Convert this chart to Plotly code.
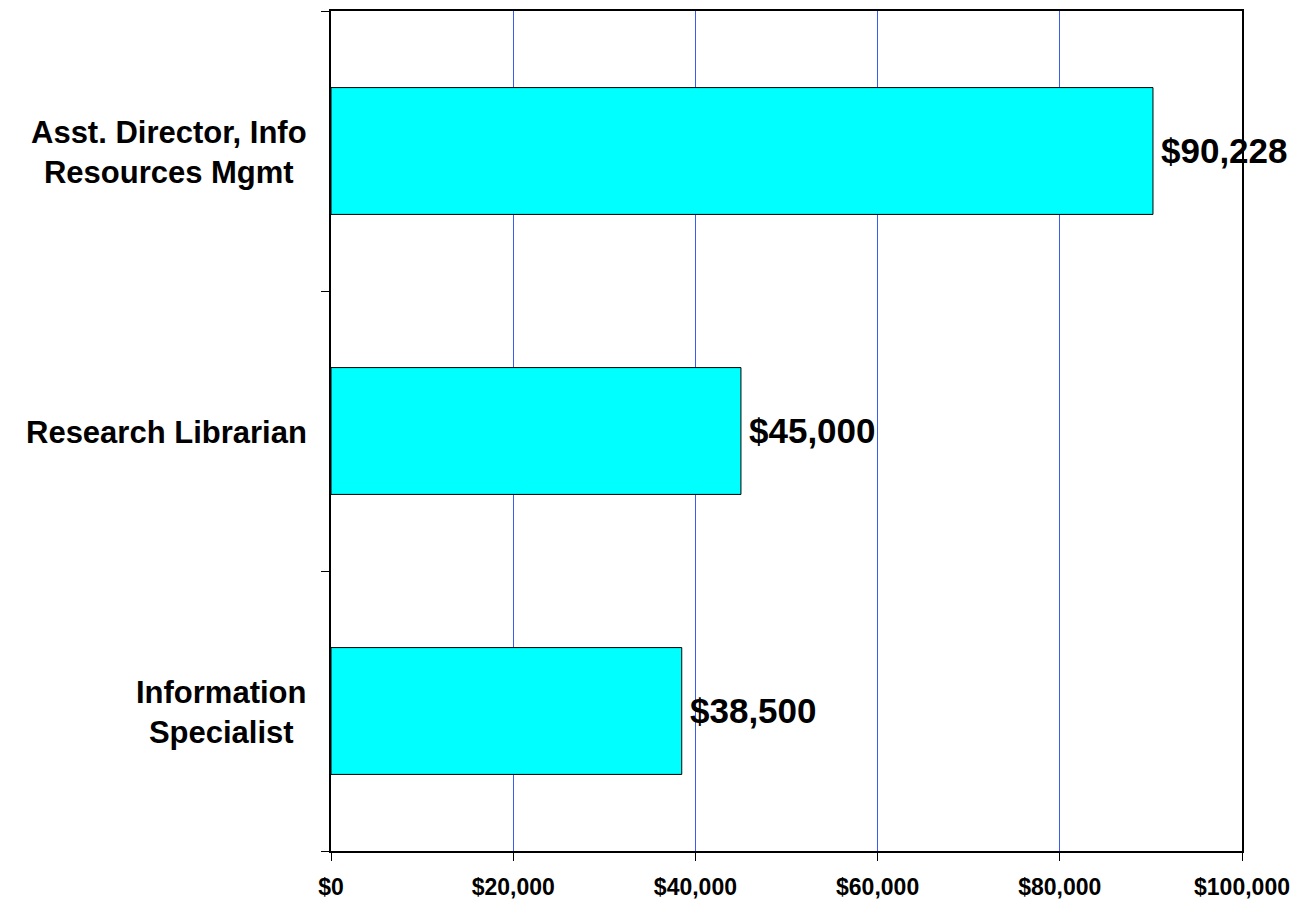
import plotly.graph_objects as go

categories = ["Information<br>Specialist", "Research Librarian", "Asst. Director, Info<br>Resources Mgmt"]
salaries = [38500, 45000, 90228]
value_labels = ["$38,500", "$45,000", "$90,228"]
x_tickvals = [0, 20000, 40000, 60000, 80000, 100000]
x_ticktext = ["$0", "$20,000", "$40,000", "$60,000", "$80,000", "$100,000"]

FONT = "Liberation Sans, Arial, sans-serif"

fig = go.Figure(go.Bar(
    x=salaries, y=categories, orientation="h",
    marker=dict(color="#00FFFF", line=dict(color="black", width=1)),
    hoverinfo="skip",
))

annotations = []
for cat, val, lab in zip(categories, salaries, value_labels):
    annotations.append(dict(
        x=val, y=cat, xref="x", yref="y", text=lab, showarrow=False,
        xanchor="left", yanchor="middle", xshift=6, yshift=1,
        font=dict(family=FONT, size=35, color="black", weight="bold"),
    ))
    annotations.append(dict(
        x=0, y=cat, xref="paper", yref="y", text=cat, showarrow=False,
        xanchor="right", yanchor="middle", xshift=-22, yshift=-1, align="center",
        font=dict(family=FONT, size=31, color="black", weight="bold"),
    ))

fig.update_layout(
    width=1291, height=896,
    margin=dict(l=323, r=57, t=1, b=53),
    paper_bgcolor="white", plot_bgcolor="white",
    bargap=0.547,
    showlegend=False,
    annotations=annotations,
    xaxis=dict(
        range=[0, 100000], tickvals=x_tickvals, ticktext=x_ticktext,
        showgrid=True, gridcolor="#3A5CF5", gridwidth=1,
        showline=True, linecolor="black", linewidth=2, mirror=True,
        ticks="outside", ticklen=8, tickcolor="black", tickwidth=1,
        ticklabelstandoff=6,
        tickfont=dict(family=FONT, size=23, color="black", weight="bold"),
        zeroline=False,
    ),
    yaxis=dict(
        type="category", categoryorder="array", categoryarray=categories,
        showticklabels=False, tickson="boundaries",
        ticks="outside", ticklen=8, tickcolor="black", tickwidth=1,
        showline=True, linecolor="black", linewidth=2, mirror=True,
        showgrid=False, range=[-0.5, 2.5],
    ),
)

fig.write_html("out.html")
